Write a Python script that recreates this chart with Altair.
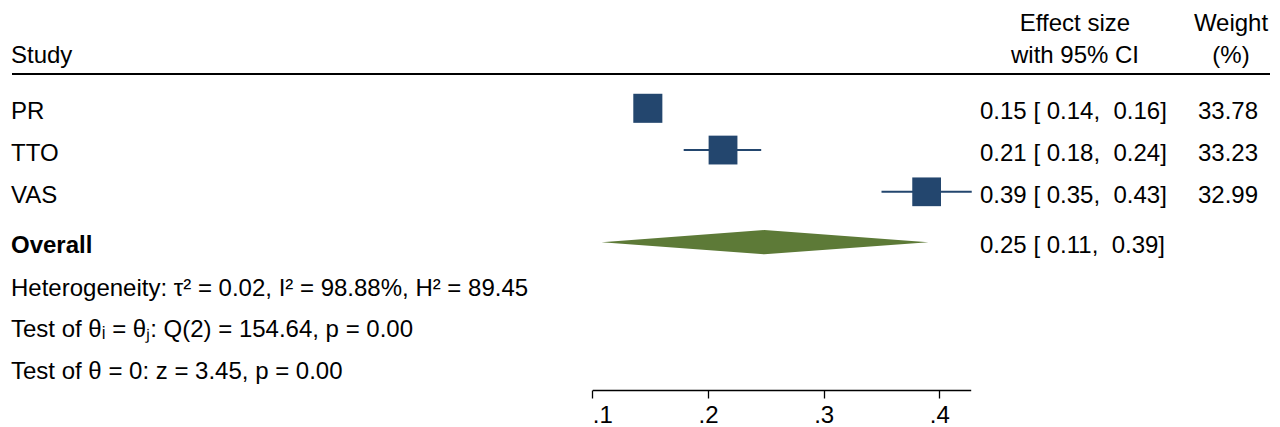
import altair as alt
import pandas as pd

# ---------------- data ----------------
studies = ["PR", "TTO", "VAS"]
est = [0.148, 0.213, 0.389]
ci_lo = [0.140, 0.179, 0.350]
ci_hi = [0.160, 0.246, 0.428]
weights = [33.78, 33.23, 32.99]
effect_text = ["0.15 [ 0.14,  0.16]", "0.21 [ 0.18,  0.24]", "0.39 [ 0.35,  0.43]"]
weight_text = ["33.78", "33.23", "32.99"]

overall_label = "Overall"
overall_est = 0.2487
overall_lo = 0.108
overall_hi = 0.3905
overall_text = "0.25 [ 0.11,  0.39]"

stats_text = [
    "Heterogeneity: τ² = 0.02, I² = 98.88%, H² = 89.45",
    "Test of θᵢ = θⱼ: Q(2) = 154.64, p = 0.00",
    "Test of θ = 0: z = 3.45, p = 0.00",
]

header_left = ["", "Study"]
header_effect = ["Effect size", "with 95% CI"]
header_weight = ["Weight", "(%)"]

axis_ticks = [0.1, 0.2, 0.3, 0.4]
axis_end = 0.4271

# row layout (row units; first study = 1)
study_rows = [1, 2, 3]
overall_row = 4.206
stats_rows = [5.24, 6.22, 7.21]
header_rows = [-1.125, -0.341]
header_rule_row = 0.18

# ---------------- style ----------------
NAVY = "#23466e"
GREEN = "#5d7a37"
FONT = "Liberation Sans"
FS = 24
W, H = 1264, 382


def nb(s):
    return s.replace(" ", "\u00a0")


ysc = alt.Scale(domain=[-1.4024, 7.747], reverse=True, nice=False, zero=False)
xsc = alt.Scale(domain=[axis_ticks[0], axis_end], range=[584.3, 962.7], nice=False, zero=False)
xaxis = alt.Axis(
    values=axis_ticks,
    labelExpr="substring(format(datum.value, '.1f'), 1)",
    tickSize=8, tickWidth=1.3, domainWidth=1.3,
    domainColor="black", tickColor="black", labelColor="black",
    labelFont=FONT, labelFontSize=FS, labelPadding=5, grid=False, title="",
)

studies_df = pd.DataFrame({
    "study": studies, "est": est, "lo": ci_lo, "hi": ci_hi,
    "weight": weights, "row": study_rows,
})

ci = alt.Chart(studies_df).mark_rule(color=NAVY, strokeWidth=2).encode(
    x=alt.X("lo:Q", scale=xsc, axis=xaxis),
    x2="hi:Q",
    y=alt.Y("row:Q", scale=ysc, axis=None),
)

squares = alt.Chart(studies_df).mark_square(color=NAVY, opacity=1, strokeWidth=0).encode(
    x=alt.X("est:Q", scale=xsc, axis=xaxis),
    y=alt.Y("row:Q", scale=ysc, axis=None),
    size=alt.Size("weight:Q", scale=alt.Scale(domain=[0, 34], range=[0, 850]), legend=None),
)

diamond_df = pd.DataFrame({"x": [overall_lo, overall_est, overall_hi], "peak": [0, 1, 0]})
diamond = alt.Chart(diamond_df).transform_calculate(
    top=f"{overall_row} - datum.peak * 0.291",
    bot=f"{overall_row} + datum.peak * 0.291",
).mark_area(color=GREEN, opacity=1, interpolate="linear").encode(
    x=alt.X("x:Q", scale=xsc, axis=xaxis),
    y=alt.Y("top:Q", scale=ysc, axis=None),
    y2="bot:Q",
)


def text_layer(df, xpx, align="left", bold=False):
    return alt.Chart(df).mark_text(
        align=align, baseline="alphabetic", dy=11, font=FONT, fontSize=FS,
        fontWeight="bold" if bold else "normal", color="black",
    ).encode(
        x=alt.value(xpx),
        y=alt.Y("row:Q", scale=ysc, axis=None),
        text="text:N",
    )


left_df = pd.DataFrame({"text": studies, "row": study_rows})
overall_df = pd.DataFrame({"text": [overall_label], "row": [overall_row]})
stats_df = pd.DataFrame({"text": stats_text, "row": stats_rows})
hleft_df = pd.DataFrame({"text": header_left, "row": header_rows})
heff_df = pd.DataFrame({"text": header_effect, "row": header_rows})
hw_df = pd.DataFrame({"text": header_weight, "row": header_rows})
eff_df = pd.DataFrame({"text": [nb(t) for t in effect_text] + [nb(overall_text)],
                       "row": study_rows + [overall_row]})
wt_df = pd.DataFrame({"text": weight_text, "row": study_rows})

rule_df = pd.DataFrame({"row": [header_rule_row]})
header_rule = alt.Chart(rule_df).mark_rule(color="black", strokeWidth=2).encode(
    x=alt.value(4), x2=alt.value(1262),
    y=alt.Y("row:Q", scale=ysc, axis=None),
)

chart = alt.layer(
    header_rule,
    ci,
    squares,
    diamond,
    text_layer(left_df, 3),
    text_layer(overall_df, 3, bold=True),
    text_layer(stats_df, 3),
    text_layer(hleft_df, 3),
    text_layer(heff_df, 1067, align="center"),
    text_layer(hw_df, 1223, align="center"),
    text_layer(eff_df, 972),
    text_layer(wt_df, 1250, align="right"),
).properties(
    width=W, height=H,
    background="white",
    autosize=alt.AutoSizeParams(type="none"),
    padding={"left": 0, "top": 0, "right": 0, "bottom": 37},
).configure_view(stroke="transparent", strokeWidth=0)

chart.save("out.html", embed_options={"renderer": "svg", "actions": False})
